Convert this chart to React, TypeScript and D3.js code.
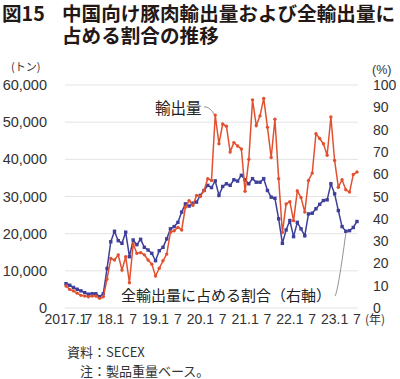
import React from 'react';
import * as d3 from 'd3';

// Months: Jan 2017 – Jul 2023
const months = d3.timeMonth.range(new Date(2017, 0, 1), new Date(2023, 7, 1));

// 中国向け豚肉輸出量 (tonnes)
const exportVolume = [
  5900, 5000, 4600, 4000, 3400, 3200, 3000, 3200, 3200, 2600, 3000, 7800,
  13300, 12900, 14300, 10200, 13800, 6800, 17200, 14700, 14900, 14300, 12900, 11800,
  8600, 10700, 12700, 14500, 20400, 20800, 21700, 21000, 27100, 28900, 27600, 30300,
  30000, 31600, 34800, 34300, 51900, 44200, 49500, 48900, 42000, 44500, 43600, 42800,
  31400, 40000, 56000, 49100, 51700, 56400, 48600, 40500, 50800, 34800, 20300, 28000,
  28600, 23500, 31500, 29700, 25800, 34300, 36300, 46900, 45600, 44200, 41100, 51400,
  39700, 32500, 34500, 31800, 31200, 35900, 36600,
];

// 全輸出量に占める割合 (%)
const shareOfTotal = [
  10.9, 10.2, 9.2, 8.4, 7.7, 6.9, 6.2, 6.4, 6.4, 5.1, 6.4, 17.7,
  29.7, 34.4, 30.2, 29.0, 34.0, 23.0, 30.5, 28.4, 30.8, 27.2, 26.0, 24.5,
  21.2, 25.7, 27.2, 31.0, 35.5, 36.5, 38.4, 43.0, 46.7, 45.7, 47.0, 47.5,
  50.5, 52.7, 55.0, 54.0, 57.0, 50.5, 54.5, 55.7, 55.0, 57.5, 56.9, 59.5,
  57.5, 55.7, 58.0, 56.4, 56.4, 58.0, 52.7, 49.7, 49.2, 40.0, 29.0, 35.0,
  39.2, 32.0, 38.4, 35.5, 32.4, 42.2, 42.5, 44.5, 46.5, 48.2, 48.5, 55.7,
  51.2, 43.7, 36.5, 34.4, 34.7, 36.1, 38.8,
];

const leftTicks = [0, 10000, 20000, 30000, 40000, 50000, 60000];
const rightTicks = [0, 10, 20, 30, 40, 50, 60, 70, 80, 90, 100];
const xTickLabels = ['2017.1', '7', '18.1', '7', '19.1', '7', '20.1', '7', '21.1', '7', '22.1', '7', '23.1', '7'];

const FONT = '"Liberation Sans", Arial, "Noto Sans CJK JP", sans-serif';
const JFONT = '"Noto Sans CJK JP", "Liberation Sans", sans-serif';
const RED = '#e2512f';
const BLUE = '#3d3f99';
const TXT = '#333333';

export default function App() {
  const W = 400, H = 379;
  const x = d3.scaleLinear().domain([0, months.length - 1]).range([66, 357]);
  const yL = d3.scaleLinear().domain([0, 60000]).range([308, 85]);
  const yR = d3.scaleLinear().domain([0, 100]).range([308, 85]);

  const redLine = d3.line<number>().x((_, i) => x(i)).y(d => yL(d))(exportVolume) || '';
  const blueLine = d3.line<number>().x((_, i) => x(i)).y(d => yR(d))(shareOfTotal) || '';

  const fmt = d3.format(',');
  const peakIdx = 40;
  const shareIdx = 75;
  const px = x(peakIdx), py = yL(exportVolume[peakIdx]);
  const sx = x(shareIdx), sy = yR(shareOfTotal[shareIdx]);

  return (
    <svg width={W} height={H} style={{ position: 'absolute', left: 0, top: 0, background: '#fff' }}>
      {/* Title */}
      <text x={2} y={21} fontFamily={JFONT} fontWeight="bold" fontSize={19.6} fill="#231815">図15</text>
      <text x={62} y={21} fontFamily={JFONT} fontWeight="bold" fontSize={19.6} fill="#231815">中国向け豚肉輸出量および全輸出量に</text>
      <text x={62} y={43} fontFamily={JFONT} fontWeight="bold" fontSize={19.6} fill="#231815">占める割合の推移</text>

      {/* units */}
      <text x={11} y={71} fontFamily={JFONT} fontSize={11} fill={TXT}>(トン)</text>
      <text x={372} y={74} fontFamily={FONT} fontSize={12.5} fill={TXT}>(%)</text>

      {/* gridlines */}
      {leftTicks.map(t => (
        <line key={'g' + t} x1={65} x2={358} y1={yL(t)} y2={yL(t)} stroke="#e3e3e3" strokeWidth={1} />
      ))}

      {/* left tick labels */}
      {leftTicks.map(t => (
        <text key={'l' + t} x={47} y={yL(t) + 5} textAnchor="end" fontFamily={FONT} fontSize={14.5} fill={TXT}>{fmt(t)}</text>
      ))}
      {/* right tick labels */}
      {rightTicks.map(t => (
        <text key={'r' + t} x={373} y={yR(t) + 5} textAnchor="start" fontFamily={FONT} fontSize={14} fill={TXT}>{t}</text>
      ))}

      {/* x tick labels */}
      {xTickLabels.map((lab, k) => (
        <text key={'x' + k} x={x(k * 6)} y={324} textAnchor="middle" fontFamily={FONT} fontSize={14} fill={TXT}>{lab}</text>
      ))}
      <text x={365} y={324} fontFamily={JFONT} fontSize={12} fill={TXT}>(年)</text>

      {/* blue series (share) */}
      <path d={blueLine} fill="none" stroke={BLUE} strokeWidth={1.5} />
      {shareOfTotal.map((d, i) => (
        <rect key={'b' + i} x={x(i) - 1.7} y={yR(d) - 1.7} width={3.4} height={3.4} fill={BLUE} />
      ))}

      {/* red series (volume) */}
      <path d={redLine} fill="none" stroke={RED} strokeWidth={1.5} />
      {exportVolume.map((d, i) => (
        <circle key={'c' + i} cx={x(i)} cy={yL(d)} r={1.7} fill={RED} />
      ))}

      {/* annotations */}
      <text x={155} y={114} fontFamily={JFONT} fontSize={15.5} fill="#222">輸出量</text>
      <path d={`M204,107 Q209,106 ${px - 1},${py - 1}`} fill="none" stroke="#777" strokeWidth={0.8} />

      <text x={121} y={301} fontFamily={JFONT} fontSize={15} fill="#222">全輸出量に占める割合（右軸）</text>
      <path d={`M335,296 Q338,292 ${sx},${sy + 2}`} fill="none" stroke="#777" strokeWidth={0.8} />

      {/* source */}
      <text x={67} y={357} fontFamily={JFONT} fontSize={13} fill={TXT}>資料：SECEX</text>
      <text x={80} y={376} fontFamily={JFONT} fontSize={13} fill={TXT}>注：製品重量ベース。</text>
    </svg>
  );
}
